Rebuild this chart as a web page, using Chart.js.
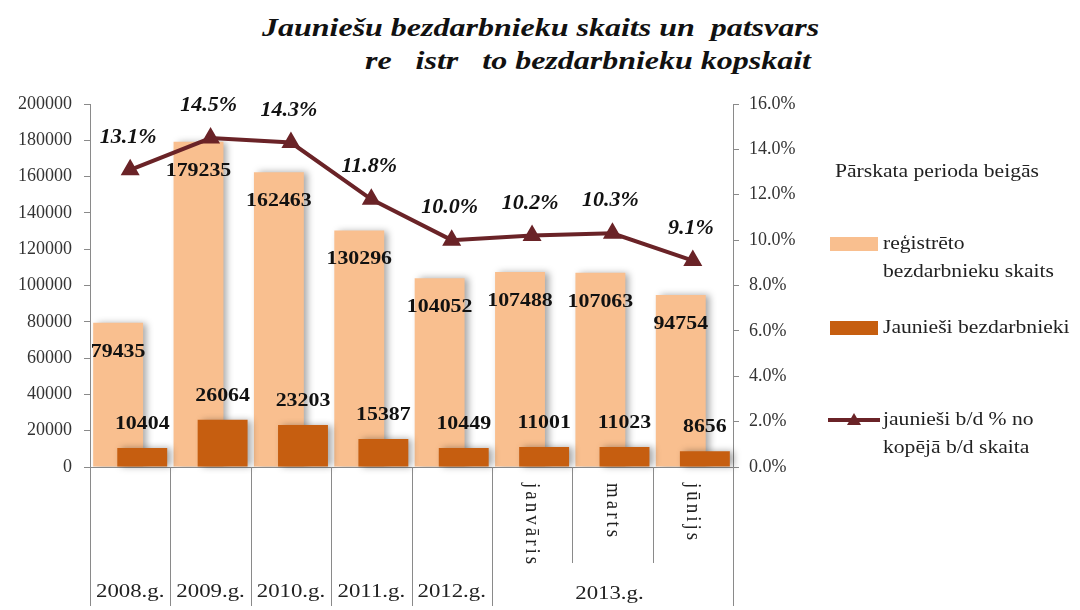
<!DOCTYPE html>
<html>
<head>
<meta charset="utf-8">
<script src="https://cdn.jsdelivr.net/npm/chart.js@4"></script>
<style>
    html, body { margin: 0; padding: 0; background: #fff; }
    #wrap { position: relative; width: 1080px; height: 610px; }
    .title { position: absolute; font-family: "Liberation Serif", serif; font-weight: bold; font-style: italic;
             font-size: 26px; color: #111; white-space: pre; line-height: 30px;
             transform: scaleX(1.23); transform-origin: 0 0; }
    canvas { position: absolute; left: 0; top: 0; }
</style>
</head>
<body>
<div id="wrap">
    <div class="title" style="left:262px;top:13px">Jauniešu bezdarbnieku skaits un  patsvars</div>
    <div class="title" style="left:365px;top:46px">re   istr   to bezdarbnieku kopskait</div>
    <canvas id="chart" width="1080" height="610"></canvas>
</div>
<script>
// data
const years = ['2008.g.', '2009.g.', '2010.g.', '2011.g.', '2012.g.', '2013.g.'];
const months = ['janvāris', 'marts', 'jūnijs'];
const categories = years.slice(0, 5).concat(months); // 2013 is shown by month
const registered = [79435, 179235, 162463, 130296, 104052, 107488, 107063, 94754];
const youth = [10404, 26064, 23203, 15387, 10449, 11001, 11023, 8656];
const youthShare = [13.1, 14.5, 14.3, 11.8, 10.0, 10.2, 10.3, 9.1];
const legendTitle = 'Pārskata perioda beigās';
const legendLines = [
    ['reģistrēto', 'bezdarbnieku skaits'],
    ['Jaunieši bezdarbnieki'],
    ['jaunieši b/d % no', 'kopējā b/d skaita']
];

const LIGHT = '#F9BF8F';
const DARK = '#C65E10';
const LINE = '#6A2327';
const SERIF = '"Liberation Serif", "Times New Roman", serif';

// the scan is a little wider than tall, so plugin texts get a horizontal stretch
function wideText(ctx, text, x, y, sx) {
    ctx.save();
    ctx.translate(x, y);
    ctx.scale(sx, 1);
    ctx.fillText(text, 0, 0);
    ctx.restore();
}

function setShadow(ctx) {
    ctx.shadowColor = 'rgba(0,0,0,0.35)';
    ctx.shadowBlur = 7;
    ctx.shadowOffsetX = 4;
    ctx.shadowOffsetY = 0;
}

// the dark bar sits on the right and has to be painted over the light one
const layering = {
    id: 'layering',
    beforeDatasetDraw(chart, args) {
        if (args.index === 1) return false; // drawn from afterDatasetDraw of dataset 0
        if (args.index === 0) {
            chart.ctx.save();
            setShadow(chart.ctx);
        }
    },
    afterDatasetDraw(chart, args) {
        if (args.index !== 0) return;
        const ctx = chart.ctx;
        ctx.restore();
        ctx.save();
        setShadow(ctx);
        chart.getDatasetMeta(1).controller.draw();
        ctx.restore();
    }
};

const valueLabels = {
    id: 'valueLabels',
    afterDatasetsDraw(chart) {
        const ctx = chart.ctx;
        ctx.save();
        ctx.textAlign = 'center';
        ctx.textBaseline = 'middle';
        ctx.fillStyle = '#111';
        ctx.font = 'bold 19px ' + SERIF;
        chart.getDatasetMeta(0).data.forEach((bar, i) => {
            wideText(ctx, registered[i], bar.x, bar.y + 29, 1.15);
        });
        chart.getDatasetMeta(1).data.forEach((bar, i) => {
            wideText(ctx, youth[i], bar.x, bar.y - 24, 1.15);
        });
        ctx.font = 'italic bold 20px ' + SERIF;
        chart.getDatasetMeta(2).data.forEach((pt, i) => {
            wideText(ctx, youthShare[i].toFixed(1) + '%', pt.x - 2, pt.y - 32, 1.1);
        });
        ctx.restore();
    }
};

// category separators, year row and rotated month names under the axis
const periodAxis = {
    id: 'periodAxis',
    afterDraw(chart) {
        const ctx = chart.ctx;
        const xs = chart.scales.x;
        const half = (xs.getPixelForValue(1) - xs.getPixelForValue(0)) / 2;
        const top = chart.chartArea.bottom;
        const n = categories.length;
        const firstMonth = n - months.length;
        ctx.save();
        ctx.strokeStyle = '#8a8a8a';
        ctx.lineWidth = 1;
        for (let i = 0; i <= n; i++) {
            const x = Math.round(xs.getPixelForValue(Math.min(i, n - 1)) + (i === n ? half : -half)) + 0.5;
            const inner = i > firstMonth && i < n;
            ctx.beginPath();
            ctx.moveTo(x, top);
            ctx.lineTo(x, inner ? 563 : 606);
            ctx.stroke();
        }
        ctx.fillStyle = '#222';
        ctx.font = '19px ' + SERIF;
        ctx.textAlign = 'center';
        ctx.textBaseline = 'middle';
        for (let i = 0; i < firstMonth; i++) {
            wideText(ctx, years[i], xs.getPixelForValue(i), 592, 1.2);
        }
        const groupMid = (xs.getPixelForValue(firstMonth) + xs.getPixelForValue(n - 1)) / 2;
        wideText(ctx, years[years.length - 1], groupMid - 3, 594, 1.2);
        ctx.textAlign = 'left';
        ctx.letterSpacing = '3px';
        for (let i = firstMonth; i < n; i++) {
            ctx.save();
            ctx.translate(xs.getPixelForValue(i), 483);
            ctx.rotate(Math.PI / 2);
            ctx.scale(1, 1.15);
            ctx.fillText(months[i - firstMonth], 0, 0);
            ctx.restore();
        }
        ctx.restore();
    }
};

const sideLegend = {
    id: 'sideLegend',
    afterDraw(chart) {
        const ctx = chart.ctx;
        ctx.save();
        ctx.fillStyle = '#222';
        ctx.font = '18px ' + SERIF;
        ctx.textBaseline = 'middle';
        wideText(ctx, legendTitle, 835, 172, 1.2);

        const rows = [244, 328, 420];
        ctx.fillStyle = LIGHT;
        ctx.fillRect(830, rows[0] - 7, 48, 14);
        ctx.fillStyle = DARK;
        ctx.fillRect(830, rows[1] - 7, 48, 14);
        ctx.strokeStyle = LINE;
        ctx.lineWidth = 4;
        ctx.beginPath();
        ctx.moveTo(828, rows[2]);
        ctx.lineTo(880, rows[2]);
        ctx.stroke();
        ctx.fillStyle = LINE;
        ctx.beginPath();
        ctx.moveTo(854, rows[2] - 7);
        ctx.lineTo(861, rows[2] + 5);
        ctx.lineTo(847, rows[2] + 5);
        ctx.closePath();
        ctx.fill();

        ctx.fillStyle = '#222';
        legendLines.forEach((lines, k) => {
            lines.forEach((t, j) => wideText(ctx, t, 883, rows[k] + j * 28, 1.2));
        });
        ctx.restore();
    }
};

function draw() {
    new Chart(document.getElementById('chart'), {
        data: {
            labels: categories,
            datasets: [{
                type: 'bar',
                label: legendLines[0].join(' '),
                data: registered,
                backgroundColor: LIGHT,
                categoryPercentage: 0.6,
                barPercentage: 2.07,
                yAxisID: 'y'
            }, {
                type: 'bar',
                label: legendLines[1].join(' '),
                data: youth,
                backgroundColor: DARK,
                categoryPercentage: 0.6,
                barPercentage: 2.07,
                yAxisID: 'y'
            }, {
                type: 'line',
                label: legendLines[2].join(' '),
                data: youthShare,
                order: -1,
                borderColor: LINE,
                backgroundColor: LINE,
                borderWidth: 4,
                pointStyle: 'triangle',
                pointRadius: 7,
                pointHoverRadius: 7,
                tension: 0,
                yAxisID: 'y1'
            }]
        },
        options: {
            responsive: false,
            animation: false,
            events: [],
            layout: { padding: { left: 0, right: 0, top: 104, bottom: 0 } },
            plugins: {
                legend: { display: false },
                title: { display: false },
                tooltip: { enabled: false }
            },
            scales: {
                x: {
                    type: 'category',
                    offset: true,
                    grid: { display: false },
                    border: { display: true, color: '#8a8a8a', width: 1 },
                    ticks: { display: false },
                    afterFit(scale) { scale.height = 143; }
                },
                y: {
                    position: 'left',
                    min: 0,
                    max: 200000,
                    ticks: {
                        stepSize: 20000,
                        color: '#333',
                        padding: 12,
                        font: { family: SERIF, size: 18 },
                        callback: v => String(v)
                    },
                    grid: { drawOnChartArea: false, tickLength: 6, color: '#8a8a8a' },
                    border: { display: true, color: '#8a8a8a', width: 1 },
                    afterFit(scale) { scale.width = 90; }
                },
                y1: {
                    position: 'right',
                    min: 0,
                    max: 16,
                    ticks: {
                        stepSize: 2,
                        color: '#333',
                        padding: 10,
                        font: { family: SERIF, size: 18 },
                        callback: v => v.toFixed(1) + '%'
                    },
                    grid: { drawOnChartArea: false, tickLength: 6, color: '#8a8a8a' },
                    border: { display: true, color: '#8a8a8a', width: 1 },
                    afterFit(scale) { scale.width = 347; }
                }
            }
        },
        plugins: [layering, valueLabels, periodAxis, sideLegend]
    });
}

Promise.all([
    document.fonts.load('18px "Liberation Serif"'),
    document.fonts.load('bold 18px "Liberation Serif"'),
    document.fonts.load('italic bold 18px "Liberation Serif"')
]).then(draw, draw);
</script>
</body>
</html>
